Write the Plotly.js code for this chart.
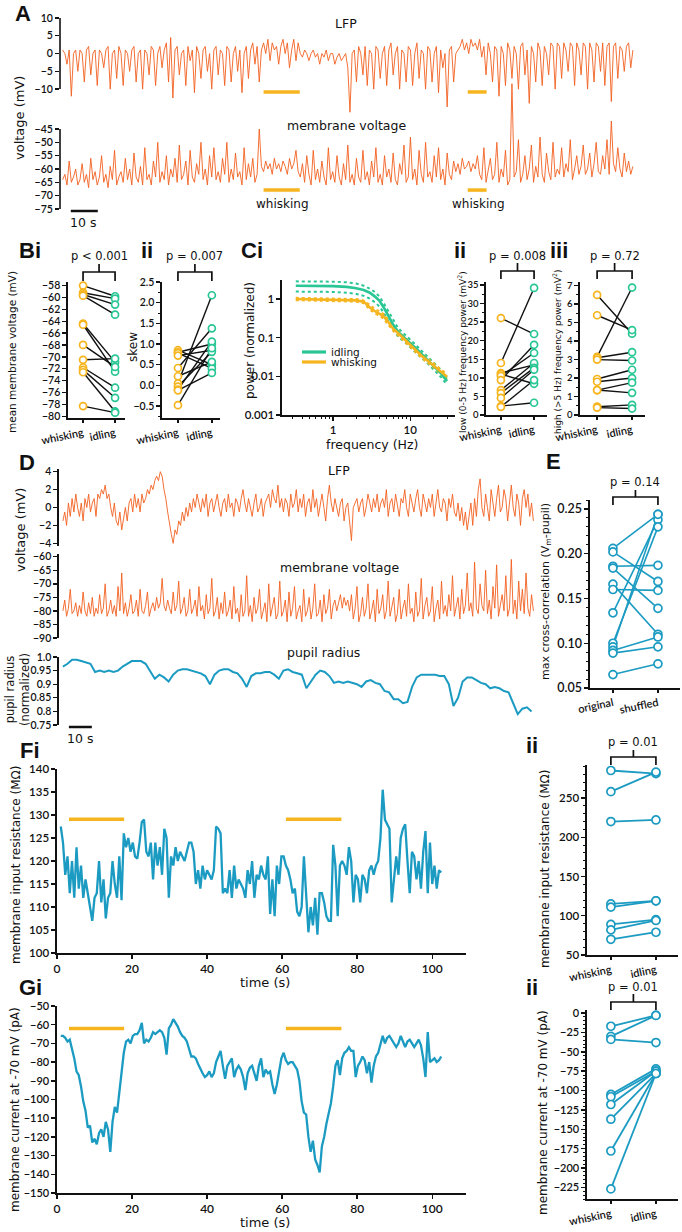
<!DOCTYPE html>
<html><head><meta charset="utf-8">
<script src="https://cdn.plot.ly/plotly-3.0.1.min.js"></script>
<style>html,body{margin:0;padding:0;background:#fff}#chart{width:682px;height:1232px}</style>
</head><body><div id="chart"></div><script>
const W=682,H=1232;
const FONT='DejaVu Sans', TICKFONT='Lato', BOLD='Liberation Sans';
const ORANGE='#F2601F', GOLD='#F6B51E', GREEN='#29C695', BLUE='#1C9BC2', INK='#111';

// ---------- Panel A: LFP and membrane voltage (sampled every A_DT s) ----------
const A_DT=0.8;
const A_LFP=[
1,0,-3,1,-12,0,1,-5,1,0,
-8,1,2,-6,0,1,-9,1,0,-4,
1,2,-10,0,1,-7,2,0,-9,1,
0,-5,1,2,-8,0,1,-10,1,0,
-6,2,1,-9,0,2,-4,1,3,-8,
4.5,-12.5,1,2,-6,0,1,-9,2,-2,
1,-11,2,0,-7,1,2,-5,0,-10,
1,2,-6,1,0,-9,2,1,-8,0,
2,-5,1,-11,0,2,-7,1,3,-3,
2,-8,1,3,0,4,-2,3,1,2,
-3,2,4,0,3,-4,1,4,-2,3,
0,-1,1,0,-2,0,1,-1,0,-3,
0,-1,1,-2,0,0,-3,-1,0,-2,
-1,0,-4,-16.5,0,1,-8,2,0,-6,
2,-9,1,0,-10,2,1,-7,0,2,
-9,1,3,-6,0,2,-10,1,0,-8,
2,1,-9,0,3,-7,1,0,-10,2,
1,-8,0,2,-11,1,-4,0,-15,1,
2,-8,0,1,2,4,1,3,0,4,
2,3,1,4,-1,2,-6,3,0,-8,
2,1,-12,2,0,-9,3,1,-7,2,
0,-10,2,3,-6,1,-14,2,0,-8,
3,1,-9,2,0,-6,3,2,-10,3,
2,-7,3,1,-5,3,2,-9,3,1,
-6,3,2,-10,3,1,-8,3,2,-5,
3,-9,2,3,-13.5,2,3,-7,2,1,
-5,2,3,-4,1];
const A_VM=[
-64,-62,-66,-57,-65,-63,-60,-66,-64,-58,
-65,-62,-67,-56,-64,-61,-66,-63,-55,-65,
-62,-67,-59,-64,-53,-66,-63,-61,-65,-56,
-64,-60,-66,-54,-63,-65,-59,-66,-52,-64,
-62,-66,-57,-63,-50,-65,-61,-64,-55,-66,
-60,-63,-56,-65,-51,-64,-62,-57,-66,-53,
-63,-65,-58,-62,-50,-64,-60,-66,-55,-63,
-52,-64,-61,-65,-56,-62,-50,-65,-60,-64,
-54,-63,-61,-66,-52,-64,-58,-63,-56,-65,
-62,-45,-59,-61,-57,-60,-58,-62,-56,-60,
-58,-61,-57,-59,-62,-56,-60,-58,-53,-61,
-63,-58,-65,-55,-62,-66,-53,-64,-60,-65,
-57,-63,-66,-52,-64,-61,-65,-55,-63,-66,
-58,-64,-51,-65,-62,-66,-56,-63,-65,-53,
-64,-61,-66,-57,-63,-52,-65,-62,-66,-55,
-63,-60,-65,-54,-64,-66,-58,-62,-51,-65,
-63,-48,-64,-60,-66,-53,-62,-65,-50,-63,
-61,-65,-55,-63,-52,-64,-60,-66,-54,-62,
-64,-57,-61,-58,-62,-56,-60,-59,-57,-61,
-58,-60,-55,-62,-64,-52,-65,-61,-56,-64,
-62,-50,-65,-60,-63,-53,-66,-64,-28,-63,
-61,-49,-65,-62,-55,-64,-60,-51,-65,-59,
-63,-48,-62,-65,-54,-61,-64,-50,-63,-60,
-62,-52,-63,-58,-61,-49,-64,-60,-55,-62,
-59,-51,-62,-60,-54,-63,-58,-50,-61,-62,
-55,-60,-49,-62,-42,-58,-61,-52,-60,-63,
-54,-61,-57,-62,-59];
const A_WHISK=[[74.4,87.8],[150,157]];

// ---------- Panel B ----------
const COND_LABELS=['whisking','idling'];
const B_MEANV_WHISK=[-58.0,-59.2,-59.5,-59.7,-64.4,-64.6,-68.0,-70.5,-71.8,-72.2,-72.6,-78.3];
const B_MEANV_IDLE =[-59.8,-60.2,-61.2,-62.9,-70.9,-72.5,-71.7,-70.3,-75.2,-76.9,-79.2,-79.4];
const B_SKEW_WHISK=[0.85,0.80,0.78,0.72,0.42,0.22,0.05,-0.03,-0.10,-0.12,-0.48];
const B_SKEW_IDLE =[0.50,1.00,0.41,0.85,1.38,0.57,2.18,0.81,1.06,0.30,0.90];

// ---------- Panel C ----------
const C_SERIES=['idling','whisking'];
const C_FREQ=[0.33,0.5,0.7,1,1.5,2,2.5,3,3.5,4,4.5,5,5.5,6,7,8,9,10,12,14,17,20,25,30];
const C_IDLE   =[2.2,2.2,2.2,2.15,2.05,1.9,1.7,1.45,1.15,0.9,0.62,0.42,0.3,0.22,0.14,0.11,0.09,0.072,0.052,0.038,0.026,0.019,0.012,0.0075];
const C_IDLE_HI=[2.85,2.85,2.85,2.8,2.7,2.5,2.2,1.85,1.5,1.15,0.8,0.55,0.39,0.28,0.175,0.135,0.11,0.088,0.063,0.046,0.032,0.023,0.0145,0.0092];
const C_IDLE_LO=[1.55,1.55,1.55,1.52,1.45,1.35,1.2,1.02,0.82,0.64,0.45,0.31,0.22,0.165,0.105,0.085,0.07,0.056,0.041,0.03,0.021,0.015,0.0096,0.006];
const C_WHISK   =[1.0,0.99,0.98,0.97,0.95,0.92,0.85,0.6,0.48,0.42,0.36,0.28,0.22,0.17,0.13,0.1,0.08,0.062,0.045,0.034,0.025,0.019,0.013,0.0098];
const C_WHISK_HI=[1.07,1.06,1.05,1.04,1.02,0.99,0.92,0.68,0.55,0.48,0.41,0.32,0.25,0.195,0.15,0.115,0.092,0.071,0.052,0.039,0.029,0.022,0.015,0.0115];
const C_WHISK_LO=[0.93,0.92,0.91,0.9,0.88,0.85,0.78,0.53,0.42,0.37,0.31,0.24,0.19,0.15,0.112,0.087,0.069,0.054,0.039,0.03,0.022,0.017,0.0112,0.0084];
const C_LOW_WHISK=[26.1,14.0,11.3,11.0,10.5,9.4,6.7,5.9,4.6,2.4,2.2];
const C_LOW_IDLE =[21.8,34.2,13.5,8.4,16.7,18.9,14.0,12.7,12.2,3.3,9.4];
const C_HIGH_WHISK=[6.5,5.4,3.15,3.1,3.0,1.95,1.8,1.35,1.35,0.45,0.4];
const C_HIGH_IDLE =[4.4,4.6,6.9,3.4,2.95,2.45,2.0,1.75,1.2,0.55,0.35];

// ---------- Panel D ----------
const D_DT=0.8;
const D_LFP=[
-1.5,-0.5,-2,0.5,-1,1,-0.5,1.5,0,-1,
0.5,-1.5,1,0,1.5,-0.5,0.5,1,-1,1.5,
1,2,1.5,2.5,1,1.5,0,-1,0.5,-1.5,
-2,-0.5,-2.5,-1,0,-1.5,0.5,1,-0.5,1.5,
0,1,-0.5,1.5,0.5,1,2,1.5,2.5,2,
3,3.5,3,4,3.5,2,1,-0.5,-2,-3,
-4,-2.5,-3,-1.5,-2,-0.5,-1.5,0,-1,0.5,
-0.5,1,0,1.5,0.5,-0.5,1,0,1.5,-1,
0.5,1,-0.5,0.5,1.5,0,-1,0.5,1,-0.5,
1.5,0,0.5,-1,1,0.5,-0.5,1,2,0.5,
-0.5,1,0,-1,0.5,1.5,-0.5,0,1,-1,
0.5,1,1.5,0,2,1,0.5,2.5,0,1,
-0.5,1,0.5,-1,1.5,0,0.5,2,-0.5,1,
0,1.5,-1,0.5,1,-0.5,2,0,1,-1,
0.5,1.5,0,-1.5,1,2.5,0.5,-0.5,1,0,
-1,0.5,1,-1.5,0,0.5,-2,-3.7,0,0.5,
1,-0.5,0.5,1,-1,0,1.5,0.5,-0.5,1,
0,1.5,-0.5,0.5,1,0,2,-1,0.5,1,
-0.5,1.5,0,-1,1,0.5,2,0,-1,1.5,
0.5,-0.5,1,2,0,-1,1.5,0.5,-0.5,1,
0,1.5,-1,0.5,2,0,-0.5,1,0.5,-1.5,
1,0,1.5,-0.5,-1,0.5,-1.5,0,-2,-0.5,
-2.5,-1,0.5,-2,1,-1,2,3.2,0,-1,
1.5,0,-1.5,2,0.5,-1,1,2.5,-0.5,0,
2,1,-1.5,0.5,2.5,0,-1,1.5,0.5,-2,
1,2,0,1.5,-1,0.5,-1.5];
const D_VM=[
-80,-76,-82,-79,-72,-81,-80,-77,-82,-78,
-81,-73,-80,-82,-77,-81,-75,-82,-79,-81,
-74,-81,-79,-70,-82,-80,-76,-81,-78,-82,
-71,-80,-66,-81,-77,-82,-79,-74,-81,-80,
-76,-82,-72,-80,-81,-78,-73,-82,-79,-77,
-80,-75,-79,-77,-68,-78,-80,-76,-79,-81,
-73,-80,-78,-69,-81,-79,-75,-82,-80,-72,
-81,-79,-76,-82,-71,-80,-78,-83,-74,-81,
-79,-68,-82,-80,-75,-83,-77,-81,-73,-82,
-80,-76,-83,-71,-81,-79,-84,-74,-82,-80,
-67,-82,-78,-84,-75,-81,-79,-72,-83,-80,
-77,-84,-70,-82,-79,-75,-83,-81,-69,-82,
-80,-76,-84,-73,-82,-79,-71,-83,-80,-78,
-84,-72,-82,-80,-75,-83,-79,-70,-82,-81,
-76,-84,-74,-81,-79,-72,-83,-78,-76,-80,
-77,-74,-79,-75,-78,-76,-80,-74,-83,-79,
-71,-84,-81,-75,-82,-79,-70,-83,-80,-76,
-84,-72,-81,-79,-74,-83,-80,-69,-82,-78,
-75,-84,-81,-72,-83,-79,-76,-82,-70,-81,
-79,-84,-73,-82,-80,-68,-83,-78,-75,-82,
-80,-71,-84,-79,-76,-83,-69,-81,-78,-82,
-74,-80,-67,-82,-79,-75,-83,-72,-81,-78,
-66,-80,-77,-82,-62,-79,-81,-70,-78,-80,
-65,-81,-76,-83,-71,-79,-63,-82,-78,-74,
-80,-67,-82,-79,-61,-81,-76,-83,-69,-80,
-72,-81,-66,-79,-82,-74,-80];
const PUPIL_DT=2;
const PUPIL=[
0.965,0.975,0.99,0.99,0.985,0.98,0.975,0.945,0.95,0.945,
0.95,0.945,0.95,0.965,0.975,0.985,0.985,0.985,0.975,0.945,
0.92,0.935,0.925,0.91,0.935,0.95,0.955,0.955,0.95,0.945,
0.94,0.93,0.9,0.935,0.95,0.955,0.955,0.945,0.94,0.92,
0.89,0.93,0.94,0.94,0.945,0.945,0.935,0.92,0.95,0.955,
0.945,0.94,0.935,0.885,0.91,0.935,0.95,0.945,0.93,0.905,
0.91,0.905,0.91,0.905,0.9,0.89,0.91,0.915,0.905,0.9,
0.875,0.87,0.845,0.845,0.83,0.835,0.89,0.925,0.935,0.935,
0.935,0.935,0.93,0.93,0.9,0.82,0.85,0.91,0.925,0.925,
0.915,0.905,0.9,0.885,0.89,0.885,0.875,0.87,0.83,0.79,
0.81,0.815,0.8];

// ---------- Panel E ----------
const E_LABELS=['original','shuffled'];
const E_ORIG=[0.206,0.202,0.186,0.184,0.166,0.160,0.134,0.100,0.096,0.092,0.089,0.065];
const E_SHUF=[0.244,0.169,0.187,0.139,0.110,0.159,0.238,0.230,0.244,0.107,0.096,0.077];

// ---------- Panels F, G (sampled every FG_DT s from FG_T0) ----------
const FG_T0=1, FG_DT=0.6;
const F_RIN=[
127.5,124,117,121,113,120,112,123,114,119,
112,116,113,110,107,112,113,120,111,116,
107.5,112,113,120,115,112,121,111.5,126,123,
125,122,124,121,120.5,124,128.5,129,122,121,
124,116,124,119,123,117,127,125,112,121,
119,123,120,122,121,120,122,124,124,122,
115,118,114,119,116,118,117,116,118,127.5,
127,126,113,114,113,118,112,119,114,116,
115,114,112,118,115,120,112,117,116,119,
117,116,121,108.5,116,108,119,115,121,121,
119,118,116,113,114,109,108,110,121,112,
104.5,110,106,112,104,113,113,111,108,107,
107,123.5,119,108,119,120,119,117,123,120,
111,117,116,111,117,116,113,118,119,117,
119,120,125,135.5,129,128,127,111,116,121,
117,125,127,128,120,113,122,121,116,120,
114,122,126.5,113,124,115,119,114,118,117.5];
const G_IHOLD=[
-66,-66,-67,-69,-68,-73,-78,-85,-87,-93,
-101,-106,-115,-114,-123,-121,-124,-118,-116,-120,
-112,-116,-128,-112,-104,-107,-95,-83,-75,-69,
-68,-70,-66,-65,-65,-63,-59,-70,-68,-69,
-67,-64,-65,-64,-63,-64,-67,-76,-62,-60,
-57,-59,-61,-64,-66,-67,-69,-73,-77,-77,
-78,-81,-84,-86,-88,-87,-85,-88,-86,-80,
-77,-74,-82,-89,-82,-80,-78,-88,-84,-82,
-84,-88,-95,-86,-83,-82,-86,-90,-82,-78,
-88,-84,-86,-85,-92,-97,-92,-86,-78,-75,
-79,-81,-80,-80,-82,-84,-90,-101,-107,-108,
-120,-128,-122,-132,-135,-139,-125,-120,-113,-107,
-102,-93,-82,-79,-87,-78,-75,-74,-72,-74,
-74,-88,-82,-80,-77,-79,-86,-80,-91,-82,
-77,-75,-70,-66,-70,-67,-66,-68,-70,-72,
-70,-66,-69,-72,-69,-68,-70,-72,-70,-68,
-71,-78,-88,-64,-80,-79,-78,-80,-79,-77];
const FG_WHISK=[[3.2,17.9],[61,75.8]];
const F_PAIR_WHISK=[285,258,220,115,111,89,82,70];
const F_PAIR_IDLE =[281,283,222,119,119,95,94,79];
const G_PAIR_WHISK=[-17,-30,-34,-105,-108,-118,-137,-178,-227];
const G_PAIR_IDLE =[-3,-3,-38,-72,-75,-75,-78,-78,-78];

// ---------- helpers ----------
const times=(n,dt,t0)=>Array.from({length:n},(_,i)=>t0+i*dt);
const dX=(a,b)=>[a/W,b/W];
const dY=(top,bot)=>[1-bot/H,1-top/H];
const py=p=>1-p/H;

const traces=[];
function line(x,y,xa,ya,color,width,dash,extra){
  traces.push(Object.assign({x,y,xaxis:xa,yaxis:ya,type:'scatter',mode:'lines',
    line:{color,width,dash:dash||'solid'},hoverinfo:'skip',showlegend:false},extra||{}));
}
function pairs(xa,ya,w,idl,colW,colI,lineCol,lw,ms){
  const lx=[],ly=[];
  w.forEach((v,i)=>{lx.push(0,1,null);ly.push(v,idl[i],null);});
  line(lx,ly,xa,ya,lineCol,lw);
  const mk=c=>({symbol:'circle',size:ms,color:'white',line:{color:c,width:1.7}});
  traces.push({x:w.map(()=>0),y:w,xaxis:xa,yaxis:ya,mode:'markers',marker:mk(colW),cliponaxis:false,showlegend:false,hoverinfo:'skip'});
  traces.push({x:idl.map(()=>1),y:idl,xaxis:xa,yaxis:ya,mode:'markers',marker:mk(colI),cliponaxis:false,showlegend:false,hoverinfo:'skip'});
}

// A
line(times(A_LFP.length,A_DT,0),A_LFP,'x','y',ORANGE,0.9);
line(times(A_VM.length,A_DT,0),A_VM,'x2','y2',ORANGE,0.9);
// B
pairs('x3','y3',B_MEANV_WHISK,B_MEANV_IDLE,GOLD,GREEN,INK,1.4,7);
pairs('x4','y4',B_SKEW_WHISK,B_SKEW_IDLE,GOLD,GREEN,INK,1.4,7);
// C i
line(C_FREQ,C_IDLE_HI,'x5','y5',GREEN,2,'dot');
line(C_FREQ,C_IDLE_LO,'x5','y5',GREEN,2,'dot');
line(C_FREQ,C_WHISK_HI,'x5','y5',GOLD,2,'dot');
line(C_FREQ,C_WHISK_LO,'x5','y5',GOLD,2,'dot');
line(C_FREQ,C_IDLE,'x5','y5',GREEN,2.6,null,{name:C_SERIES[0]});
line(C_FREQ,C_WHISK,'x5','y5',GOLD,2.6,null,{name:C_SERIES[1]});
// C ii, iii
pairs('x6','y6',C_LOW_WHISK,C_LOW_IDLE,GOLD,GREEN,INK,1.4,7);
pairs('x7','y7',C_HIGH_WHISK,C_HIGH_IDLE,GOLD,GREEN,INK,1.4,7);
// D
line(times(D_LFP.length,D_DT,0),D_LFP,'x8','y8',ORANGE,0.9);
line(times(D_VM.length,D_DT,0),D_VM,'x9','y9',ORANGE,0.9);
line(times(PUPIL.length,PUPIL_DT,0),PUPIL,'x10','y10',BLUE,2);
// E
pairs('x11','y11',E_ORIG,E_SHUF,BLUE,BLUE,BLUE,1.6,8);
// F, G
line(times(F_RIN.length,FG_DT,FG_T0),F_RIN,'x12','y12',BLUE,2.3);
pairs('x13','y13',F_PAIR_WHISK,F_PAIR_IDLE,BLUE,BLUE,BLUE,1.8,8);
line(times(G_IHOLD.length,FG_DT,FG_T0),G_IHOLD,'x14','y14',BLUE,2.3);
pairs('x15','y15',G_PAIR_WHISK,G_PAIR_IDLE,BLUE,BLUE,BLUE,1.8,8);

// ---------- axes ----------
const tfont=(s)=>({family:TICKFONT,size:s||10.5,color:INK,weight:600});
const base={showgrid:false,zeroline:false,showline:true,linecolor:INK,linewidth:1.6,
  ticks:'outside',ticklen:4,tickwidth:1.4,tickcolor:INK,tickfont:tfont(10.5),fixedrange:true};
const hidden=(dom,range,anchor)=>({domain:dom,range,anchor,visible:false,fixedrange:true});
const ax=(o)=>Object.assign({},base,o);
const catX=(dom,range,anchor,labels)=>ax({domain:dom,range,anchor,tickmode:'array',tickvals:[0,1],ticktext:labels,tickangle:-12,ticklen:3,tickfont:tfont(11)});
const minor=(d)=>({ticks:'outside',ticklen:2,tickwidth:1,tickcolor:INK,dtick:d});

const layout={
  width:W,height:H,margin:{l:0,r:0,t:0,b:0},paper_bgcolor:'#fff',plot_bgcolor:'rgba(0,0,0,0)',
  font:{family:FONT,color:INK},
  showlegend:false,
  // A
  xaxis:hidden(dX(60,634),[-1,211.6],'y'),
  yaxis:ax({domain:dY(18,114),range:[-17,10],anchor:'x',showline:false,tickmode:'array',tickvals:[-10,-5,0,5,10]}),
  xaxis2:hidden(dX(60,634),[-1,211.6],'y2'),
  yaxis2:ax({domain:dY(81,209),range:[-75,-27],anchor:'x2',showline:false,tickmode:'array',tickvals:[-75,-70,-65,-60,-55,-50,-45]}),
  // B
  xaxis3:catX(dX(68,125),[-0.47,1.31],'y3',COND_LABELS),
  yaxis3:ax({domain:dY(282,418),range:[-80.3,-57.4],anchor:'x3',tick0:-80,dtick:2}),
  xaxis4:catX(dX(162,220),[-0.47,1.24],'y4',COND_LABELS),
  yaxis4:ax({domain:dY(282,418),range:[-0.79,2.5],anchor:'x4',tick0:0,dtick:0.5,tickformat:'.1f',minor:minor(0.25)}),
  // C
  xaxis5:ax({domain:dX(282,455),type:'log',range:[-0.66,1.58],anchor:'y5',tickmode:'array',tickvals:[1,10],ticktext:['1','10'],
    tickfont:tfont(11.5),
    minor:{ticks:'outside',ticklen:2.5,tickwidth:1,tickcolor:INK,tickmode:'array',tickvals:[0.3,0.4,0.5,0.6,0.7,0.8,0.9,2,3,4,5,6,7,8,9,20,30]}}),
  yaxis5:ax({domain:dY(280,415),type:'log',range:[-3,0.49],anchor:'x5',tickmode:'array',tickvals:[0.001,0.01,0.1,1],ticktext:['0.001','0.01','0.1','1'],tickfont:tfont(11.5)}),
  xaxis6:catX(dX(486,547),[-0.45,1.39],'y6',COND_LABELS),
  yaxis6:ax({domain:dY(282,415),range:[0,35.8],anchor:'x6',dtick:5,minor:minor(2.5),tickfont:tfont(9.5)}),
  xaxis7:catX(dX(580,645),[-0.49,1.37],'y7',COND_LABELS),
  yaxis7:ax({domain:dY(282,415),range:[0,7.2],anchor:'x7',dtick:1,minor:minor(0.5),tickfont:tfont(9.5)}),
  // D
  xaxis8:hidden(dX(59,535),[-1.7,205.5],'y8'),
  yaxis8:ax({domain:dY(469,546),range:[-4.3,4.3],anchor:'x8',tickmode:'array',tickvals:[-4,-2,0,2,4]}),
  xaxis9:hidden(dX(59,535),[-1.7,205.5],'y9'),
  yaxis9:ax({domain:dY(554,638),range:[-90,-59],anchor:'x9',tickmode:'array',tickvals:[-90,-85,-80,-75,-70,-65,-60]}),
  xaxis10:hidden(dX(59,535),[-1.7,205.5],'y10'),
  yaxis10:ax({domain:dY(657,725),range:[0.75,1.0],anchor:'x10',tickmode:'array',tickvals:[0.75,0.8,0.85,0.9,0.95,1.0],ticktext:['0.75','0.8','0.85','0.9','0.95','1.0']}),
  // E
  xaxis11:catX(dX(590,680),[-0.51,1.49],'y11',E_LABELS),
  yaxis11:ax({domain:dY(500,688),range:[0.05,0.26],anchor:'x11',tick0:0.05,dtick:0.05,tickformat:'.2f',minor:minor(0.01),tickfont:tfont(12.5)}),
  // F
  xaxis12:ax({domain:dX(57,466),range:[0,109],anchor:'y12',dtick:20,tickfont:tfont(12)}),
  yaxis12:ax({domain:dY(769,953),range:[100,140],anchor:'x12',dtick:5,tickfont:tfont(11.5)}),
  xaxis13:catX(dX(587,678),[-0.53,1.49],'y13',COND_LABELS),
  yaxis13:ax({domain:dY(765,955),range:[50,292],anchor:'x13',tickmode:'array',tickvals:[50,100,150,200,250],minor:minor(10),tickfont:tfont(11.5)}),
  // G
  xaxis14:ax({domain:dX(57,466),range:[0,109],anchor:'y14',dtick:20,tickfont:tfont(12)}),
  yaxis14:ax({domain:dY(1006,1193),range:[-150,-50],anchor:'x14',dtick:10,tickfont:tfont(11)}),
  xaxis15:catX(dX(587,678),[-0.53,1.49],'y15',COND_LABELS),
  yaxis15:ax({domain:dY(1010,1199),range:[-240,4],anchor:'x15',tickmode:'array',tickvals:[0,-25,-50,-75,-100,-125,-150,-175,-200,-225],minor:minor(5),tickfont:tfont(11)}),
};

// ---------- shapes ----------
const shapes=[];
const vline=(xa,ya,y0,y1)=>shapes.push({type:'line',xref:xa+' domain',x0:0,x1:0,yref:ya,y0,y1,line:{color:INK,width:1.6}});
vline('x','y',-10,10);
vline('x2','y2',-75,-45);
A_WHISK.forEach(([a,b])=>{
  shapes.push({type:'line',xref:'x',yref:'y',x0:a,x1:b,y0:-10.8,y1:-10.8,line:{color:GOLD,width:3.5}});
  shapes.push({type:'line',xref:'x2',yref:'y2',x0:a,x1:b,y0:-67.9,y1:-67.9,line:{color:GOLD,width:3.5}});
});
FG_WHISK.forEach(([a,b])=>{
  shapes.push({type:'line',xref:'x12',yref:'y12',x0:a,x1:b,y0:129.1,y1:129.1,line:{color:GOLD,width:3.5}});
  shapes.push({type:'line',xref:'x14',yref:'y14',x0:a,x1:b,y0:-62,y1:-62,line:{color:GOLD,width:3.5}});
});
// 10 s scale bars
shapes.push({type:'line',xref:'x2',yref:'paper',x0:3,x1:13,y0:py(211),y1:py(211),line:{color:INK,width:2.5}});
shapes.push({type:'line',xref:'x10',yref:'paper',x0:2.6,x1:12.6,y0:py(727),y1:py(727),line:{color:INK,width:2.5}});
// p-value brackets
const bracket=(xa,yH,yLeg,yStem)=>shapes.push({type:'path',xref:xa,yref:'paper',
  path:`M0,${py(yLeg)} L0,${py(yH)} L1,${py(yH)} L1,${py(yLeg)} M0.5,${py(yH)} L0.5,${py(yStem)}`,line:{color:INK,width:1.7}});
bracket('x3',272,281,264); bracket('x4',272,281,264);
bracket('x6',271,279,263); bracket('x7',271,279,263);
bracket('x11',497,505,490);
bracket('x13',757,765,750);
bracket('x15',1002,1010,994);
// legend keys for panel Ci
const LEG_Y=[352,362], LEG_COL=[GREEN,GOLD];
LEG_Y.forEach((y,i)=>shapes.push({type:'line',xref:'paper',yref:'paper',x0:302/W,x1:326/W,y0:py(y),y1:py(y),line:{color:LEG_COL[i],width:3.2}}));
layout.shapes=shapes;

// ---------- annotations ----------
const A=(text,x,y,o)=>Object.assign({text,x:x/W,y:py(y),xref:'paper',yref:'paper',showarrow:false,xanchor:'center',yanchor:'middle',
  font:{family:FONT,size:12,color:INK}},o||{});
const L=(text,x,y)=>A('<b>'+text+'</b>',x,y,{font:{family:BOLD,size:22,color:INK}});
const P=(text,xa,y)=>({text,x:0.5,xref:xa,y:py(y),yref:'paper',showarrow:false,xanchor:'center',yanchor:'middle',font:{family:FONT,size:11.5,color:INK}});
const R=(text,x,y,size)=>A(text,x,y,{textangle:-90,font:{family:FONT,size:size||12,color:INK}});
layout.annotations=[
  L('A',23,14), L('Bi',30,250), L('ii',147,250), L('Ci',252,250), L('ii',460,250), L('iii',559,250),
  L('D',27,462), L('E',553,461), L('Fi',30,750), L('ii',532,745), L('Gi',30,987), L('ii',532,987),
  A('LFP',346,24,{font:{family:FONT,size:12.5,color:INK}}), A('membrane voltage',346,125,{font:{family:FONT,size:12.5,color:INK}}),
  A('whisking',282,204), A('whisking',478,204),
  A('10 s',83,222,{font:{family:FONT,size:12.5,color:INK}}),
  R('voltage (mV)',20,118,13),
  P('p &lt; 0.001','x3',256), P('p = 0.007','x4',256), P('p = 0.008','x6',256), P('p = 0.72','x7',256),
  R('mean membrane voltage (mV)',12,352,10.5), R('skew',133,347,12),
  R('power (normalized)',250,341,12), A('frequency (Hz)',372,444,{font:{family:FONT,size:12.5,color:INK}}),
  A(C_SERIES[0],329,352,{xanchor:'left',font:{family:FONT,size:10.5,color:INK}}),
  A(C_SERIES[1],329,362,{xanchor:'left',font:{family:FONT,size:10.5,color:INK}}),
  R('low (0-5 Hz) frequency power (mV<sup>2</sup>)',462,352,9), R('high (&gt;5 Hz) frequency power (mV<sup>2</sup>)',557,352,9),
  A('LFP',339,470,{font:{family:FONT,size:12.5,color:INK}}), A('membrane voltage',339,567,{font:{family:FONT,size:12.5,color:INK}}),
  A('pupil radius',323,652,{font:{family:FONT,size:12.5,color:INK}}),
  R('voltage (mV)',20,530,13), R('pupil radius<br>(normalized)',17,690,11.5),
  A('10 s',80,738,{font:{family:FONT,size:12.5,color:INK}}),
  P('p = 0.14','x11',482), R('max cross-correlation (V<sub>m</sub>-pupil)',546,592,11),
  A('time (s)',265,982,{font:{family:FONT,size:13,color:INK}}), R('membrane input resistance (MΩ)',16,865,12),
  P('p = 0.01','x13',742), R('membrane input resistance (MΩ)',545,869,12),
  A('time (s)',265,1222,{font:{family:FONT,size:13,color:INK}}), R('membrane current at -70 mV (pA)',15,1110,12),
  P('p = 0.01','x15',987), R('membrane current at -70 mV (pA)',543,1113,12)
];

Plotly.newPlot('chart',traces,layout,{staticPlot:true,displayModeBar:false});
</script></body></html>
